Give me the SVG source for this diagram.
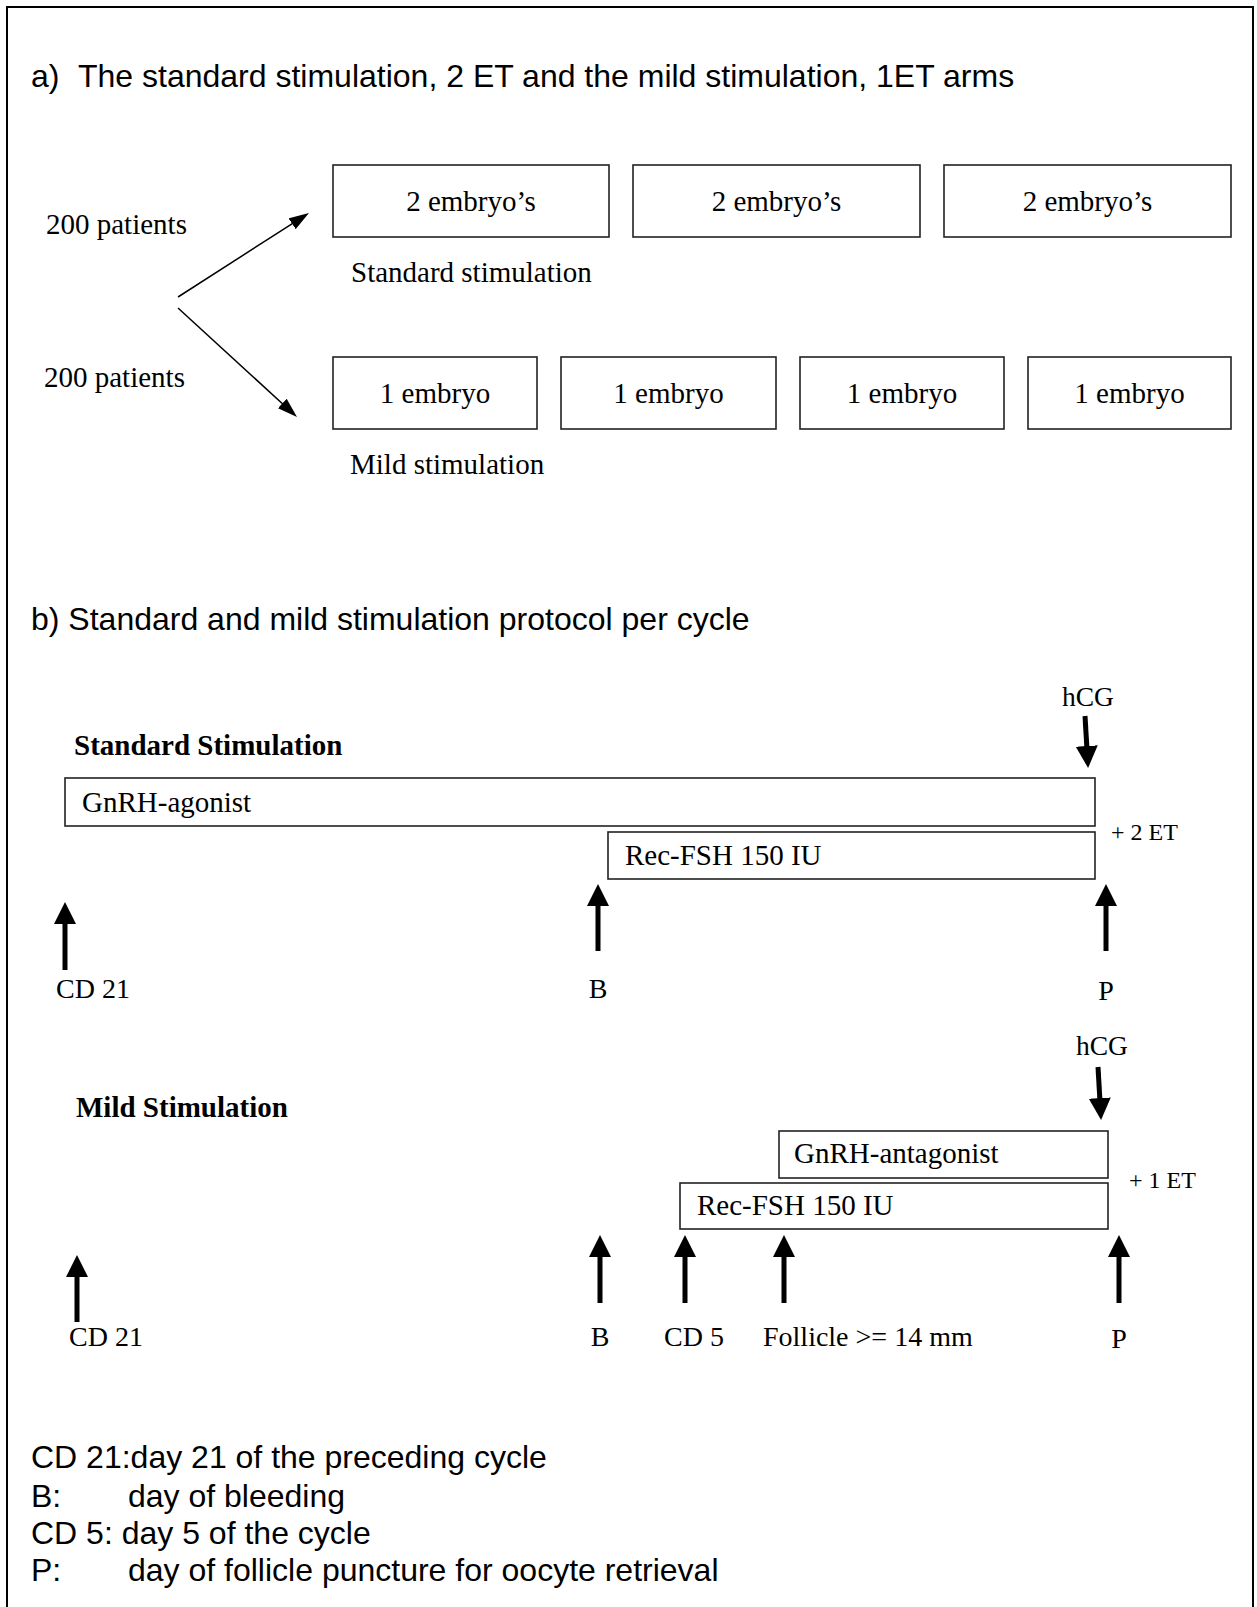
<svg xmlns="http://www.w3.org/2000/svg" width="1257" height="1607" viewBox="0 0 1257 1607">
<style>
.box{fill:#fff;stroke:#222;stroke-width:1.6}
.t{font-family:"Liberation Serif","Times New Roman",serif;font-size:29px;fill:#000}
.tl{font-family:"Liberation Serif","Times New Roman",serif;font-size:28px;fill:#000}
.ts{font-family:"Liberation Serif","Times New Roman",serif;font-size:24px;fill:#000}
.tb{font-family:"Liberation Serif","Times New Roman",serif;font-size:29px;font-weight:bold;fill:#000}
.h{font-family:"Liberation Sans",Arial,sans-serif;font-size:32px;fill:#000}
.thin{stroke:#000;stroke-width:1.5;fill:none}
.thick{stroke:#000;stroke-width:5;fill:none}
</style>
<defs>
<marker id="sh" markerUnits="userSpaceOnUse" markerWidth="22" markerHeight="14" viewBox="0 -7 22 14" refX="4" refY="0" orient="auto">
<path d="M0,-6.5 L20,0 L0,6.5 z" fill="#000"/>
</marker>
<marker id="bh" markerUnits="userSpaceOnUse" markerWidth="24" markerHeight="24" viewBox="0 -12 24 24" refX="7" refY="0" orient="auto">
<path d="M0,-11 L22,0 L0,11 z" fill="#000"/>
</marker>
</defs>
<rect width="1257" height="1607" fill="#fff"/>
<path d="M7,1607 V7 H1253 V1607" fill="none" stroke="#000" stroke-width="2"/>

<text class="h" x="31" y="87">a)</text>
<text class="h" x="78" y="87">The standard stimulation, 2 ET and the mild stimulation, 1ET arms</text>
<text class="t" x="46" y="234">200 patients</text>
<text class="t" x="44" y="387">200 patients</text>

<g id="std1"><rect class="box" x="333" y="165" width="276" height="72"/><text class="t" x="471" y="211" text-anchor="middle">2 embryo’s</text></g>
<g id="std2"><rect class="box" x="633" y="165" width="287" height="72"/><text class="t" x="776.5" y="211" text-anchor="middle">2 embryo’s</text></g>
<g id="std3"><rect class="box" x="944" y="165" width="287" height="72"/><text class="t" x="1087.5" y="211" text-anchor="middle">2 embryo’s</text></g>
<text class="t" x="351" y="282">Standard stimulation</text>

<g id="mild1"><rect class="box" x="333" y="357" width="204" height="72"/><text class="t" x="435" y="403" text-anchor="middle">1 embryo</text></g>
<g id="mild2"><rect class="box" x="561" y="357" width="215" height="72"/><text class="t" x="668.5" y="403" text-anchor="middle">1 embryo</text></g>
<g id="mild3"><rect class="box" x="800" y="357" width="204" height="72"/><text class="t" x="902" y="403" text-anchor="middle">1 embryo</text></g>
<g id="mild4"><rect class="box" x="1028" y="357" width="203" height="72"/><text class="t" x="1129.5" y="403" text-anchor="middle">1 embryo</text></g>
<text class="t" x="350" y="474">Mild stimulation</text>

<text class="h" x="31" y="630">b) Standard and mild stimulation protocol per cycle</text>

<text class="tb" x="74" y="755">Standard Stimulation</text>
<text class="ts" x="1088" y="706" text-anchor="middle" style="font-size:27.5px">hCG</text>
<g id="agonist"><rect class="box" x="65" y="778" width="1030" height="48"/><text class="t" x="82" y="812">GnRH-agonist</text></g>
<g id="fsh1"><rect class="box" x="608" y="832" width="487" height="47"/><text class="t" x="625" y="865">Rec-FSH 150 IU</text></g>
<text class="ts" x="1111" y="840">+ 2 ET</text>
<text class="tl" x="56" y="998">CD 21</text>
<text class="tl" x="598" y="998" text-anchor="middle">B</text>
<text class="tl" x="1106" y="1000" text-anchor="middle">P</text>

<text class="tb" x="76" y="1117">Mild Stimulation</text>
<text class="ts" x="1102" y="1055" text-anchor="middle" style="font-size:27.5px">hCG</text>
<g id="antagonist"><rect class="box" x="779" y="1131" width="329" height="47"/><text class="t" x="794" y="1163">GnRH-antagonist</text></g>
<g id="fsh2"><rect class="box" x="680" y="1183" width="428" height="46"/><text class="t" x="697" y="1215">Rec-FSH 150 IU</text></g>
<text class="ts" x="1129" y="1188">+ 1 ET</text>
<text class="tl" x="69" y="1346">CD 21</text>
<text class="tl" x="600" y="1346" text-anchor="middle">B</text>
<text class="tl" x="664" y="1346">CD 5</text>
<text class="tl" x="763" y="1346">Follicle &gt;= 14 mm</text>
<text class="tl" x="1119" y="1348" text-anchor="middle">P</text>

<g id="legend" class="h">
<text x="31" y="1468">CD 21:day 21 of the preceding cycle</text>
<text x="31" y="1507">B:</text><text x="128" y="1507">day of bleeding</text>
<text x="31" y="1544">CD 5: day 5 of the cycle</text>
<text x="31" y="1581">P:</text><text x="128" y="1581">day of follicle puncture for oocyte retrieval</text>
</g>

<g id="connectors">
<line class="thin" x1="178" y1="297" x2="295.5" y2="221.6" marker-end="url(#sh)"/>
<line class="thin" x1="178" y1="308" x2="285.2" y2="406.2" marker-end="url(#sh)"/>
<line class="thick" x1="1085" y1="716" x2="1087.2" y2="753" marker-end="url(#bh)"/>
<line class="thick" x1="65" y1="970" x2="65" y2="917" marker-end="url(#bh)"/>
<line class="thick" x1="598" y1="951" x2="598" y2="899" marker-end="url(#bh)"/>
<line class="thick" x1="1106" y1="951" x2="1106" y2="899" marker-end="url(#bh)"/>
<line class="thick" x1="1098" y1="1067" x2="1100.2" y2="1105" marker-end="url(#bh)"/>
<line class="thick" x1="77" y1="1322" x2="77" y2="1270" marker-end="url(#bh)"/>
<line class="thick" x1="600" y1="1303" x2="600" y2="1250" marker-end="url(#bh)"/>
<line class="thick" x1="685" y1="1303" x2="685" y2="1250" marker-end="url(#bh)"/>
<line class="thick" x1="784" y1="1303" x2="784" y2="1250" marker-end="url(#bh)"/>
<line class="thick" x1="1119" y1="1303" x2="1119" y2="1250" marker-end="url(#bh)"/>
</g>
</svg>
